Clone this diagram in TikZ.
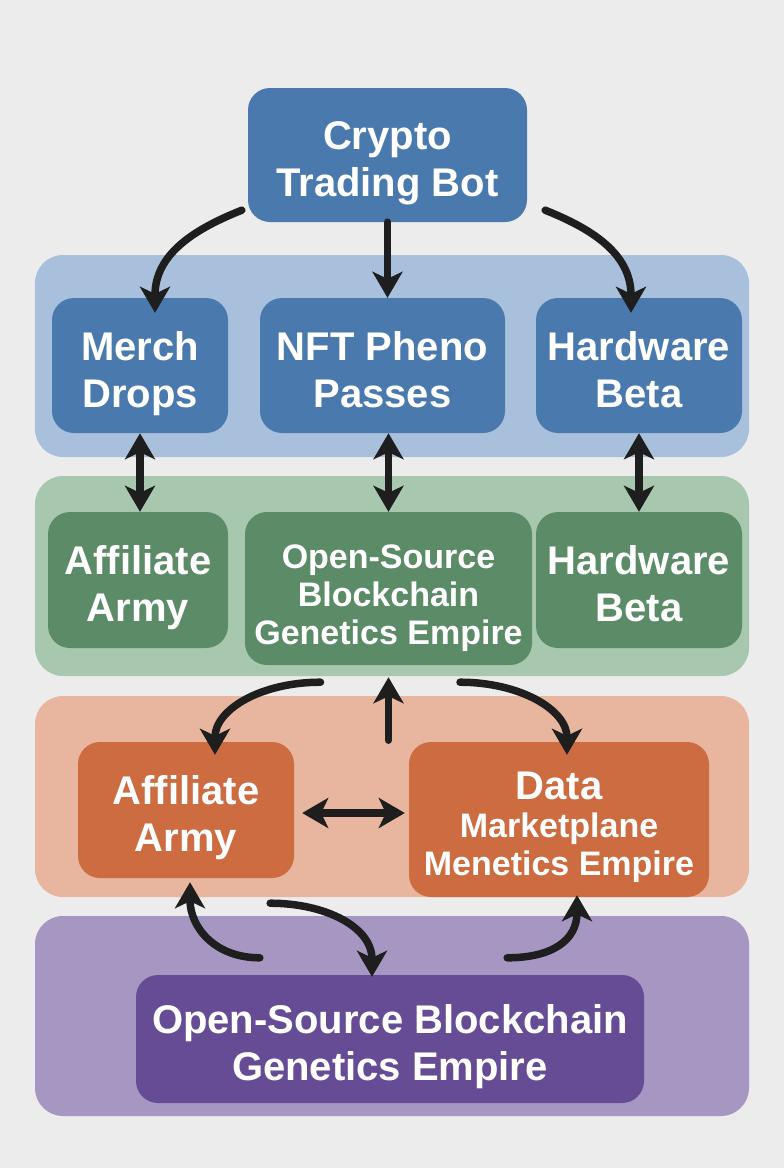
\documentclass[tikz,border=0pt]{standalone}
\usepackage{fontspec}
\setmainfont{Liberation Sans}
\usepackage{tikz}
\usetikzlibrary{arrows.meta,calc}

\definecolor{bgc}{HTML}{ECECEC}
\definecolor{bluebox}{HTML}{4A7AAD}
\definecolor{blueband}{HTML}{A9C0DC}
\definecolor{greenbox}{HTML}{5B8B67}
\definecolor{greenband}{HTML}{A7C8AF}
\definecolor{orangebox}{HTML}{CC6C40}
\definecolor{orangeband}{HTML}{E8B59F}
\definecolor{purplebox}{HTML}{654C94}
\definecolor{purpleband}{HTML}{A597C2}
\definecolor{arrowc}{HTML}{1E1E1E}

% text block with fixed top and bottom room
\newcommand{\fitlines}[1]{\rule{0pt}{48pt}#1\rule[-12pt]{0pt}{12pt}}

\begin{document}
\begin{tikzpicture}[x=1pt, y=-1pt,
  box/.style={rectangle, rounded corners=22pt, text=white, align=center, inner sep=0pt,
    font=\bfseries\fontsize{40}{47}\selectfont},
  smalltext/.style={font=\bfseries\fontsize{34}{38}\selectfont},
  band/.style={rounded corners=28pt},
  arr/.style={line width=7.5pt, line cap=round, draw=arrowc,
    -{Stealth[length=26pt,width=30pt,inset=7pt]}},
  dar/.style={arr, {Stealth[length=26pt,width=30pt,inset=7pt]}-{Stealth[length=26pt,width=30pt,inset=7pt]}}]
  % Background and bands
  \fill[bgc] (0,0) rectangle (784,1168);
  \fill[blueband, band] (35,255) rectangle (749,457);
  \fill[greenband, band] (35,476) rectangle (749,676);
  \fill[orangeband, band] (35,696) rectangle (749,897);
  \fill[purpleband, band] (35,916) rectangle (749,1116);
  % Top node
  \node[box, fill=bluebox, minimum width=279pt, minimum height=134pt] (bot) at (387.5,155) {\fitlines{Crypto\\Trading Bot}};
  % Blue row
  \node[box, fill=bluebox, minimum width=176pt, minimum height=135pt] (merch) at (140,365.5) {\fitlines{Merch\\Drops}};
  \node[box, fill=bluebox, minimum width=245pt, minimum height=135pt] (nft) at (382.5,365.5) {\fitlines{NFT Pheno\\Passes}};
  \node[box, fill=bluebox, minimum width=206pt, minimum height=135pt] (hwa) at (639,365.5) {\fitlines{Hardware\\Beta}};
  % Green row
  \node[box, fill=greenbox, minimum width=180pt, minimum height=136pt] (aff) at (138,580) {\fitlines{Affiliate\\Army}};
  \node[box, smalltext, fill=greenbox, minimum width=287pt, minimum height=153pt] (osbg) at (388.5,588.5) {\fitlines{Open-Source\\Blockchain\\Genetics Empire}};
  \node[box, fill=greenbox, minimum width=206pt, minimum height=136pt] (hwb) at (639,580) {\fitlines{Hardware\\Beta}};
  % Orange row
  \node[box, fill=orangebox, minimum width=216pt, minimum height=136pt] (affo) at (186,810) {\fitlines{Affiliate\\Army}};
  \node[box, smalltext, fill=orangebox, minimum width=300pt, minimum height=155pt] (data) at (559,819.5)
    {\fitlines{{\fontsize{40}{47}\selectfont Data}\\Marketplane\\Menetics Empire}};
  % Purple row
  \node[box, fill=purplebox, minimum width=508pt, minimum height=128pt] (osbgp) at (390,1039) {\fitlines{Open-Source Blockchain\\Genetics Empire}};
  % Arrows from the top node
  \draw[arr] ([shift={(-6,-12)}]bot.south west) .. controls +(-45,18) and +(0,-60) .. ([shift={(15,15)}]merch.north);
  \draw[arr] (bot.south) -- (bot.south |- nft.north);
  \draw[arr] ([shift={(18,-12)}]bot.south east) .. controls +(45,18) and +(0,-60) .. ([shift={(-8,15)}]hwa.north);
  % Blue <-> green
  \draw[dar] (merch.south) -- (merch.south |- aff.north);
  \draw[dar] (osbg.north |- nft.south) -- (osbg.north);
  \draw[dar] (hwa.south) -- (hwb.north);
  % Green -> orange
  \draw[arr] ([shift={(-68,17)}]osbg.south) .. controls +(-60,0) and +(0,-45) .. ([shift={(29,13)}]affo.north);
  \draw[arr] ([shift={(0,75)}]osbg.south) -- ([shift={(0,12)}]osbg.south);
  \draw[arr] ([shift={(71.5,17)}]osbg.south) .. controls +(60,0) and +(0,-45) .. ([shift={(8,13)}]data.north);
  % Orange row
  \draw[dar] ([shift={(8,3)}]affo.east) -- ([shift={(-4,-6.5)}]data.west);
  % Purple <-> orange
  \draw[arr] ([shift={(124,-17)}]osbgp.north west) .. controls +(-45,0) and +(0,45) .. ([shift={(4,4)}]affo.south);
  \draw[arr] ([shift={(-24,25)}]affo.south east) .. controls +(55,0) and +(0,-50) .. ([shift={(-18,2)}]osbgp.north);
  \draw[arr] ([shift={(-137,-17)}]osbgp.north east) .. controls +(45,0) and +(0,45) .. ([shift={(18,-2)}]data.south);
\end{tikzpicture}
\end{document}
